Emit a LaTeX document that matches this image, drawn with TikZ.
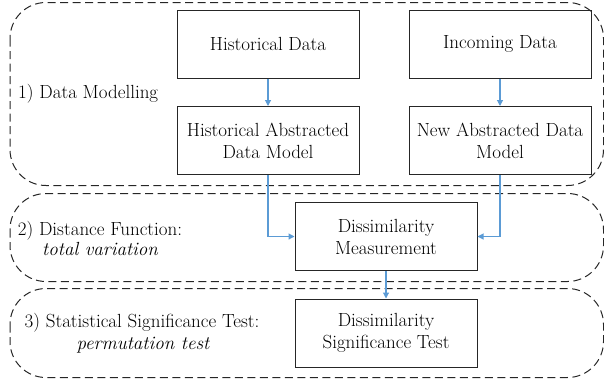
\documentclass[tikz,border=0pt]{standalone}
\usetikzlibrary{arrows.meta}
\begin{document}
\begin{tikzpicture}[x=1pt,y=-1pt,
  region/.style={draw=black!85, line width=1pt, dash pattern=on 8pt off 4.5pt, rounded corners=36pt},
  box/.style={draw=black!85, line width=1pt, minimum width=182pt, minimum height=68pt, align=center, inner sep=0pt, font=\fontsize{19}{22}\selectfont},
  lbl/.style={font=\fontsize{19}{22}\selectfont, inner sep=0pt, anchor=base},
  conn/.style={draw={rgb,255:red,91;green,155;blue,213}, line width=1.1pt, -{Triangle[length=6pt,width=6pt]}}
]
\useasboundingbox (0,0) rectangle (604,383);
\draw[region] (10,2.5) rectangle (603.5,185.5);
\draw[region] (10,193.5) rectangle (603.5,281.5);
\draw[region] (10,288.5) rectangle (603.5,377.5);

\node[box] (hd) at (268,44) {Historical Data};
\node[box] (id) at (500,44) {Incoming Data};
\node[box] (ha) at (268,140.5) {Historical Abstracted\\Data Model};
\node[box] (na) at (500,140.5) {New Abstracted Data\\Model};
\node[box] (dm) at (386,236.5) {Dissimilarity\\Measurement};
\node[box] (ds) at (386,333) {Dissimilarity\\Significance Test};

\node[lbl, anchor=base west] (l1) at (18,98) {1) Data Modelling};
\node[lbl] (l2) at (100,235) {2) Distance Function:};
\node[lbl] (l2b) at (100,255) {\itshape total variation};
\node[lbl] (l3) at (142,327) {3) Statistical Significance Test:};
\node[lbl] (l3b) at (143,349) {\itshape permutation test};

\draw[conn] (hd) -- (ha);
\draw[conn] (id) -- (na);
\draw[conn] (ha.south) |- (dm.west);
\draw[conn] (na.south) |- (dm.east);
\draw[conn] (dm) -- (ds);
\end{tikzpicture}
\end{document}
